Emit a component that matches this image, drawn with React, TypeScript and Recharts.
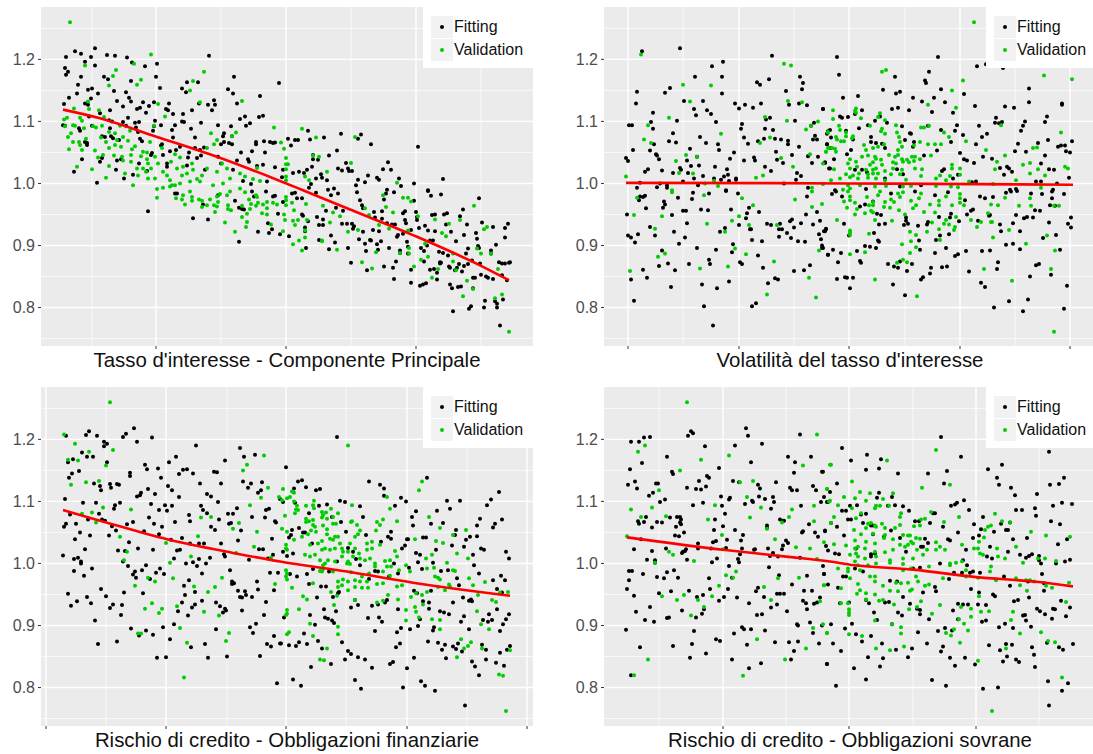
import React from "react";
import { ScatterChart, Scatter, XAxis, YAxis, CartesianGrid, Legend } from "recharts";

type P = [number, number];

const yMajor = [0.8, 0.9, 1.0, 1.1, 1.2];
const yMinor = [0.75, 0.85, 0.95, 1.05, 1.15, 1.25];

const titles = [
  "Tasso d'interesse - Componente Principale",
  "Volatilità del tasso d'interesse",
  "Rischio di credito - Obbligazioni finanziarie",
  "Rischio di credito - Obbligazioni sovrane",
];

const xMajor1 = [115, 245, 375];
const xMinor1 = [51, 180, 310, 440];
const xMajor2 = [24, 135, 245, 356, 466];
const xMinor2 = [79, 190, 301, 411];
const xMajor3 = [5, 125, 245, 366, 486];
const xMinor3 = [65, 186, 305, 426];
const xMajor4 = [119, 245, 372];
const xMinor4 = [55, 182, 309, 435];

const fit1Line: P[] = [[22,1.119],[59,1.105],[116,1.075],[176,1.043],[239,1.004],[262,.989],[306,.96],[376,.914],[439,.868],[468,.844]];
const fit2Line: P[] = [[22,1.001],[245,1.0],[469,.998]];
const fit3Line: P[] = [[22,1.086],[59,1.069],[126,1.039],[192,1.017],[239,1.003],[306,.987],[372,.969],[439,.954],[469,.948]];
const fit4Line: P[] = [[23,1.042],[119,1.022],[182,1.011],[226,1.003],[246,.998],[309,.99],[372,.978],[435,.97],[469,.963]];

const fitting1: P[] = [[54,1.218],[34,1.213],[40,1.209],[25,1.204],[50,1.204],[66,1.207],[74,1.206],[86,1.203],[91,1.195],[116,1.193],[104,1.189],[168,1.206],[44,1.196],[24,1.186],[27,1.18],[25,1.175],[54,1.19],[40,1.172],[63,1.172],[67,1.168],[115,1.172],[90,1.165],[37,1.159],[47,1.151],[51,1.153],[73,1.149],[119,1.154],[141,1.153],[146,1.163],[157,1.163],[36,1.145],[57,1.145],[85,1.147],[145,1.147],[193,1.172],[187,1.152],[192,1.145],[50,1.137],[28,1.138],[76,1.133],[88,1.138],[90,1.132],[173,1.134],[23,1.128],[44,1.129],[47,1.127],[82,1.124],[102,1.131],[113,1.131],[128,1.129],[108,1.125],[96,1.12],[99,1.122],[125,1.12],[127,1.118],[69,1.118],[105,1.114],[59,1.113],[132,1.112],[142,1.112],[151,1.118],[158,1.129],[167,1.127],[171,1.118],[174,1.127],[196,1.129],[219,1.141],[222,1.109],[218,1.107],[204,1.108],[199,1.104],[238,1.162],[48,1.108],[22,1.094],[24,1.093],[38,1.089],[39,1.085],[68,1.102],[71,1.1],[82,1.099],[85,1.093],[87,1.106],[94,1.098],[98,1.099],[114,1.101],[95,1.09],[97,1.083],[113,1.092],[120,1.094],[112,1.085],[141,1.1],[143,1.099],[131,1.086],[134,1.094],[150,1.088],[160,1.098],[177,1.094],[190,1.092],[205,1.093],[209,1.097],[69,1.089],[51,1.093],[61,1.076],[64,1.075],[70,1.076],[72,1.073],[78,1.07],[132,1.074],[154,1.074],[183,1.081],[182,1.076],[191,1.076],[99,1.072],[101,1.068],[46,1.065],[44,1.067],[46,1.062],[121,1.063],[120,1.061],[139,1.059],[154,1.057],[163,1.058],[159,1.054],[180,1.063],[183,1.067],[188,1.065],[191,1.063],[215,1.067],[215,1.063],[223,1.068],[229,1.067],[232,1.065],[234,1.066],[224,1.05],[211,1.052],[200,1.05],[129,1.052],[135,1.054],[111,1.049],[110,1.046],[122,1.046],[148,1.05],[147,1.042],[156,1.041],[160,1.045],[177,1.043],[41,1.039],[59,1.035],[61,1.041],[76,1.037],[80,1.039],[98,1.032],[126,1.032],[196,1.037],[207,1.039],[208,1.035],[216,1.028],[222,1.03],[234,1.026],[180,1.032],[75,1.022],[33,1.019],[92,1.014],[83,1.008],[56,1.001],[106,1.02],[126,1.027],[146,1.029],[164,1.022],[192,1.022],[202,1.004],[210,.999],[226,1.003],
[267,1.085],[300,1.08],[320,1.079],[317,1.072],[283,1.074],[269,1.071],[247,1.072],[254,1.07],[257,1.07],[250,1.061],[330,1.063],[377,1.059],[296,1.053],[288,1.045],[272,1.046],[272,1.039],[277,1.038],[305,1.033],[347,1.034],[271,1.027],[297,1.024],[301,1.021],[307,1.024],[308,1.02],[311,1.02],[342,1.023],[350,1.022],[252,1.017],[258,1.019],[263,1.017],[266,1.022],[242,1.022],[280,1.015],[281,1.009],[275,1.008],[286,1.005],[241,1.01],[317,1.006],[327,1.013],[336,1.009],[338,1.006],[358,1.008],[402,1.007],[324,1.002],[315,.997],[373,1.0],[360,.996],[270,.999],[268,.993],[287,.99],[293,.992],[346,.99],[387,.989],
[107,.955],[152,.944],[167,.942],[198,.906],[217,.922],[228,.92],[231,.926],[239,.918],[227,.936],[237,.951],[194,.972],[198,.961],[201,.959],[203,.958],[162,.966],[134,.984],[136,.984],[177,.981],[213,.979],[232,.979],[234,.98],[211,.987],[225,.987],
[438,.976],[400,.982],[390,.98],[387,.988],[373,.972],[353,.986],[345,.984],[343,.974],[316,.986],[319,.973],[321,.965],[322,.96],[297,.984],[290,.981],[275,.985],[254,.985],[251,.984],[261,.976],[256,.976],[242,.97],[261,.95],[262,.948],[267,.939],[276,.946],[278,.933],[282,.933],[282,.942],[285,.956],[295,.961],[302,.956],[301,.935],[306,.935],[311,.935],[313,.931],[312,.927],[264,.929],[264,.923],[248,.915],[290,.916],[278,.909],[294,.905],[318,.91],[288,.894],[265,.896],[307,.896],[310,.872],[326,.86],[343,.866],[352,.864],[355,.874],[353,.846],[370,.84],[370,.861],[379,.835],[382,.837],[385,.839],[325,.891],[324,.903],[329,.909],[330,.908],[337,.893],[336,.902],[340,.907],[348,.896],[359,.892],[359,.888],[366,.906],[367,.898],[367,.887],[380,.896],[383,.891],[383,.874],[386,.9],[389,.908],[394,.923],[392,.908],[387,.924],[384,.932],[378,.928],[376,.941],[364,.941],[365,.936],[356,.914],[357,.917],[362,.919],[370,.925],[351,.934],[354,.934],[346,.936],[338,.923],[332,.925],[322,.922],[333,.954],[334,.945],[341,.955],[341,.943],[362,.952],[364,.955],[375,.954],[376,.946],[391,.949],[394,.95],[403,.95],[406,.952],[405,.934],[410,.922],[419,.947],[422,.958],[426,.934],[423,.917],[415,.907],[402,.888],[398,.89],[407,.884],[425,.887],[427,.895],[399,.873],[399,.871],[389,.861],[393,.862],[396,.845],[396,.856],[400,.872],[408,.866],[409,.864],[414,.86],[416,.864],[421,.858],[418,.87],[423,.867],[427,.87],[431,.876],[439,.871],[440,.853],[432,.848],[434,.848],[432,.831],[409,.837],[411,.831],[417,.833],[420,.834],[412,.794],[428,.798],[430,.802],[443,.8],[444,.811],[454,.81],[456,.8],[456,.806],[462,.813],[445,.85],[447,.848],[452,.846],[461,.852],[466,.844],[458,.873],[461,.871],[464,.871],[468,.872],[469,.873],[455,.901],[450,.892],[450,.887],[464,.913],[464,.928],[467,.935],[452,.93],[441,.937],[435,.92],[436,.911],[437,.899],[438,.896],[459,.771]];

const validation1: P[] = [[29,1.26],[110,1.208],[93,1.193],[44,1.19],[163,1.18],[75,1.183],[72,1.173],[68,1.158],[100,1.167],[96,1.159],[152,1.165],[149,1.15],[47,1.132],[117,1.128],[159,1.131],[201,1.133],[33,1.121],[48,1.12],[58,1.118],[23,1.103],[26,1.106],[39,1.106],[41,1.101],[63,1.107],[124,1.108],[24,1.092],[32,1.094],[34,1.093],[43,1.089],[52,1.092],[55,1.09],[61,1.093],[68,1.083],[74,1.081],[79,1.093],[89,1.085],[113,1.093],[27,1.075],[30,1.081],[32,1.067],[38,1.067],[39,1.062],[45,1.072],[60,1.074],[65,1.067],[74,1.062],[76,1.07],[82,1.075],[87,1.069],[94,1.06],[109,1.067],[28,1.055],[41,1.054],[54,1.053],[68,1.057],[80,1.059],[91,1.055],[102,1.051],[106,1.05],[121,1.057],[57,1.042],[62,1.046],[73,1.045],[81,1.043],[82,1.037],[90,1.046],[100,1.044],[114,1.043],[139,1.042],[36,1.027],[51,1.023],[68,1.028],[90,1.035],[106,1.039],[107,1.032],[96,1.024],[102,1.024],[110,1.024],[117,1.032],[130,1.035],[134,1.047],[84,1.016],[97,1.013],[105,1.019],[122,1.019],[126,1.013],[114,1.008],[136,1.024],[142,1.027],[151,1.032],[166,1.057],[170,1.081],[173,1.063],[176,1.07],[181,1.032],[195,1.082],[191,1.076],[233,1.09],[65,1.009],[92,.997],[107,1.008],[129,1.005],[131,.997],[141,1.013],[146,1.016],[152,1.022],[161,1.013],[166,1.024],[176,1.019],[186,1.024],[199,1.016],[204,1.011],[216,1.025],[212,1.007],[219,1.004],[134,.997],[139,1.0],[149,1.003],[156,1.007],[159,1.003],[172,.997],[182,1.0],[189,1.008],[129,.995],[122,.993],[116,.991],[199,.992],
[116,.977],[135,.976],[141,.974],[144,.966],[142,.981],[149,.987],[151,.978],[151,.972],[158,.974],[161,.972],[161,.962],[166,.965],[169,.974],[173,.965],[176,.963],[177,.97],[174,.954],[176,.979],[179,.983],[186,.981],[189,.987],[187,.965],[190,.957],[187,.959],[184,.937],[194,.922],[201,.946],[206,.951],[206,.938],[205,.93],[201,.964],[209,.959],[208,.974],[210,.967],[215,.964],[217,.969],[216,.978],[215,.981],[204,.986],[221,.952],[222,.966],[226,.97],[226,.96],[226,.95],[230,.934],[232,.969],[236,.966],
[261,1.088],[275,1.074],[314,1.075],[240,1.066],[243,1.056],[245,1.041],[245,1.031],[247,1.031],[245,1.023],[245,1.011],[245,1.005],[272,1.045],[278,1.043],[310,1.033],[286,1.019],[264,1.011],[268,1.005],[356,1.001],
[245,.978],[245,.973],[245,.965],[251,.969],[265,.967],[253,.957],[243,.95],[252,.94],[257,.941],[266,.941],[244,.941],[254,.933],[242,.923],[264,.924],[264,.913],[258,.908],[252,.902],[261,.892],[282,.964],[292,.953],[299,.947],[289,.937],[307,.922],[281,.908],[281,.907],[296,.893],[317,.925],[324,.96],[328,.949],[338,.933],[348,.927],[342,.981],[345,.962],[352,.953],[362,.977],[367,.977],[370,.971],[377,.947],[367,.924],[368,.896],[359,.888],[368,.887],[335,.889],[321,.873],[331,.863],[384,.903],[387,.882],[380,.877],[373,.866],[397,.862],[391,.848],[394,.942],[408,.935],[401,.92],[405,.915],[412,.887],[412,.874],[415,.86],[419,.941],[433,.964],[443,.926],[446,.93],[440,.887],[436,.895],[450,.887],[457,.862],[426,.843],[432,.83],[422,.818],[454,.815],[461,.821],[468,.761]];

const fitting2: P[] = [[76,1.218],[38,1.213],[168,1.206],[119,1.196],[108,1.189],[91,1.172],[118,1.172],[165,1.168],[196,1.172],[153,1.163],[156,1.159],[199,1.162],[66,1.154],[198,1.152],[33,1.148],[61,1.146],[182,1.149],[118,1.145],[80,1.133],[99,1.133],[32,1.129],[131,1.129],[141,1.127],[157,1.129],[185,1.127],[195,1.129],[203,1.126],[90,1.12],[103,1.118],[135,1.121],[149,1.122],[219,1.12],[49,1.114],[92,1.11],[107,1.112],[25,1.094],[28,1.094],[47,1.099],[73,1.101],[112,1.099],[138,1.096],[162,1.103],[166,1.106],[191,1.101],[210,1.098],[207,1.093],[49,1.088],[137,1.088],[161,1.088],[169,1.086],[69,1.081],[224,1.083],[211,1.077],[96,1.075],[140,1.074],[223,1.08],[65,1.068],[72,1.066],[50,1.063],[102,1.065],[114,1.063],[144,1.064],[154,1.068],[160,1.072],[171,1.072],[177,1.071],[184,1.069],[184,1.063],[209,1.071],[213,1.071],[223,1.063],[86,1.056],[115,1.054],[46,1.053],[29,1.054],[172,1.051],[195,1.059],[130,1.05],[52,1.047],[53,1.045],[22,1.041],[24,1.036],[55,1.039],[83,1.037],[93,1.043],[126,1.04],[150,1.042],[151,1.037],[173,1.038],[179,1.033],[188,1.046],[204,1.044],[214,1.043],[221,1.034],[140,1.037],[58,1.021],[41,1.019],[44,1.023],[69,1.017],[76,1.025],[77,1.022],[84,1.017],[87,1.028],[95,1.029],[111,1.027],[123,1.023],[161,1.027],[167,1.02],[208,1.033],[193,1.017],[197,1.012],[225,1.024],[79,1.003],[90,1.008],[99,1.012],[110,1.008],[117,1.006],[120,1.011],[124,1.014],[125,1.004],[132,1.008],[132,1.006],[36,1.001],[56,1.0],[192,1.006],[180,1.0],[63,.997],[53,.994],[94,.997],[33,.993],[63,.993],[122,.989],[204,.993],
[35,.973],[36,.979],[39,.978],[41,.98],[42,.96],[23,.95],[60,.971],[61,.966],[59,.961],[74,.977],[68,.949],[79,.956],[82,.956],[88,.975],[89,.985],[105,.984],[104,.957],[97,.958],[122,.988],[134,.984],[127,.958],[145,.961],[143,.952],[142,.944],[155,.954],[135,.933],[146,.926],[147,.926],[163,.935],[167,.933],[176,.935],[175,.926],[178,.926],[186,.939],[188,.942],[197,.936],[202,.95],[213,.954],[203,.979],[209,.934],[190,.929],[183,.92],[187,.912],[175,.914],[194,.907],[201,.906],[215,.918],[216,.94],[220,.923],[222,.926],[217,.91],[218,.9],[218,.896],[224,.885],[83,.936],[46,.93],[34,.918],[24,.916],[27,.913],[51,.916],[31,.905],[70,.922],[81,.913],[75,.903],[93,.896],[121,.928],[116,.922],[129,.902],[128,.889],[112,.893],[148,.909],[158,.907],[154,.884],[58,.892],[105,.877],[106,.87],[85,.87],[136,.873],[138,.87],[159,.864],[55,.867],[64,.871],[71,.86],[39,.861],[43,.848],[27,.845],[30,.811],[67,.833],[98,.837],[113,.831],[125,.842],[164,.839],[171,.847],[174,.845],[190,.859],[200,.86],[206,.868],[100,.802],[109,.771],[148,.802],[152,.807],
[233,1.204],[334,1.204],[373,1.189],[382,1.192],[399,1.186],[235,1.175],[291,1.172],[325,1.18],[321,1.166],[322,1.162],[425,1.153],[279,1.151],[296,1.148],[292,1.145],[337,1.152],[239,1.138],[254,1.141],[309,1.138],[330,1.138],[360,1.144],[318,1.132],[341,1.131],[425,1.131],[458,1.129],[458,1.127],[371,1.125],[401,1.124],[410,1.122],[219,1.12],[258,1.118],[288,1.12],[294,1.122],[305,1.118],[328,1.115],[349,1.114],[251,1.112],[236,1.108],[238,1.106],[244,1.107],[276,1.108],[271,1.101],[283,1.098],[392,1.106],[391,1.098],[395,1.097],[398,1.099],[443,1.108],[441,1.099],[421,1.1],[419,1.093],[417,1.085],[264,1.094],[255,1.089],[298,1.092],[324,1.093],[337,1.086],[351,1.085],[353,1.094],[375,1.093],[383,1.08],[378,1.075],[359,1.078],[226,1.086],[224,1.084],[227,1.074],[242,1.085],[249,1.071],[267,1.075],[306,1.081],[307,1.08],[301,1.07],[444,1.07],[468,1.068],[414,1.064],[434,1.065],[347,1.067],[223,1.063],[267,1.067],[272,1.065],[278,1.064],[310,1.067],[372,1.063],[454,1.059],[461,1.061],[457,1.061],[226,1.057],[247,1.054],[281,1.057],[309,1.059],[333,1.053],[411,1.052],[422,1.051],[462,1.052],[466,1.05],[356,1.049],[441,1.045],[243,1.047],[320,1.045],[379,1.043],[388,1.04],[230,1.039],[360,1.039],[363,1.037],[370,1.033],[437,1.032],[221,1.033],[396,1.025],[403,1.027],[405,1.024],[408,1.019],[445,1.023],[450,1.022],[400,1.014],[465,1.009],[226,1.024],[251,1.022],[258,1.022],[263,1.018],[293,1.023],[299,1.015],[340,1.023],[338,1.02],[354,1.014],[349,1.008],[432,1.003],[437,1.003],[453,1.0],[281,1.008],[317,.997],[368,1.002],[372,1.003],[231,.989],[262,.991],[296,.995],[406,.99],[412,.991],[449,.99],
[228,.983],[232,.987],[287,.984],[269,.971],[261,.966],[256,.963],[238,.979],[311,.987],[331,.981],[344,.986],[361,.973],[376,.979],[381,.976],[389,.978],[402,.985],[407,.987],[413,.988],[427,.984],[438,.983],[448,.987],[448,.976],[460,.983],[446,.965],[451,.964],[273,.951],[277,.949],[302,.945],[302,.94],[275,.934],[281,.935],[300,.933],[304,.935],[314,.932],[323,.934],[324,.938],[335,.946],[346,.945],[347,.951],[355,.939],[363,.95],[367,.956],[369,.958],[374,.94],[385,.948],[386,.949],[396,.934],[397,.923],[409,.936],[412,.949],[416,.923],[420,.944],[423,.946],[429,.945],[431,.957],[436,.956],[445,.937],[240,.935],[221,.923],[222,.927],[245,.916],[270,.92],[452,.917],[464,.935],[467,.929],[467,.945],[439,.912],[336,.916],[345,.918],[332,.909],[315,.908],[274,.908],[275,.906],[261,.899],[266,.898],[272,.896],[342,.896],[316,.893],[219,.896],[229,.893],[224,.885],[237,.888],[253,.891],[331,.888],[351,.883],[354,.886],[362,.891],[378,.891],[386,.892],[402,.901],[409,.903],[416,.894],[456,.893],[256,.875],[257,.872],[234,.873],[284,.87],[290,.866],[294,.864],[296,.874],[308,.87],[327,.864],[338,.865],[343,.866],[394,.873],[393,.862],[432,.868],[435,.87],[303,.859],[326,.855],[365,.858],[447,.853],[233,.846],[241,.849],[243,.848],[249,.848],[319,.849],[317,.845],[246,.831],[289,.837],[377,.84],[381,.833],[426,.85],[463,.835],[301,.82],[390,.8],[405,.81],[424,.813],[419,.794],[460,.798]];

const validation2: P[] = [[37,1.208],[180,1.193],[187,1.19],[79,1.159],[107,1.158],[86,1.132],[184,1.133],[198,1.131],[65,1.106],[161,1.107],[183,1.101],[214,1.1],[44,1.094],[207,1.093],[202,1.087],[224,1.083],[117,1.08],[40,1.071],[166,1.074],[47,1.065],[156,1.065],[222,1.051],[224,1.057],[82,1.046],[93,1.043],[206,1.047],[177,1.041],[72,1.036],[219,1.032],[189,1.027],[89,1.016],[75,1.017],[159,1.013],[152,1.009],[22,1.011],[110,1.004],[101,1.0],[114,.996],[208,.993],[68,.989],
[33,.977],[100,.981],[68,.986],[138,.976],[149,.965],[191,.974],[208,.987],[208,.962],[218,.967],[30,.949],[58,.947],[135,.947],[103,.935],[128,.94],[145,.933],[173,.933],[51,.927],[121,.922],[215,.892],[131,.895],[61,.887],[54,.882],[142,.886],[170,.874],[124,.866],[96,.863],[26,.859],[205,.848],[163,.821],[212,.816],
[370,1.26],[440,1.174],[468,1.168],[359,1.166],[278,1.18],[282,1.183],[348,1.15],[324,1.127],[352,1.122],[229,1.118],[252,1.121],[251,1.117],[252,1.114],[276,1.113],[229,1.104],[257,1.105],[274,1.107],[281,1.102],[235,1.093],[292,1.094],[266,1.093],[317,1.09],[320,1.09],[325,1.093],[236,1.086],[278,1.088],[277,1.084],[281,1.08],[293,1.082],[340,1.082],[397,1.094],[457,1.082],[242,1.082],[224,1.082],[232,1.075],[233,1.071],[242,1.076],[249,1.076],[248,1.073],[237,1.068],[240,1.068],[296,1.067],[295,1.075],[345,1.075],[316,1.067],[362,1.068],[260,1.062],[274,1.059],[280,1.063],[310,1.061],[324,1.063],[331,1.063],[337,1.063],[228,1.057],[231,1.056],[225,1.057],[222,1.051],[232,1.051],[262,1.054],[269,1.057],[294,1.054],[298,1.059],[382,1.054],[429,1.057],[433,1.058],[246,1.039],[258,1.043],[264,1.045],[271,1.043],[272,1.04],[277,1.038],[285,1.046],[291,1.043],[294,1.046],[298,1.039],[303,1.038],[308,1.043],[311,1.043],[316,1.039],[327,1.045],[401,1.045],[393,1.035],[252,1.035],[244,1.032],[266,1.03],[269,1.034],[278,1.03],[289,1.034],[292,1.032],[299,1.035],[305,1.034],[310,1.036],[419,1.03],[426,1.033],[461,1.027],[464,1.024],[230,1.023],[253,1.027],[246,1.024],[262,1.022],[269,1.022],[272,1.024],[281,1.02],[289,1.024],[298,1.022],[311,1.024],[318,1.023],[348,1.03],[348,1.024],[356,1.024],[391,1.023],[434,1.023],[426,1.016],[441,1.013],[242,1.015],[249,1.013],[255,1.016],[264,1.015],[269,1.016],[274,1.016],[287,1.015],[296,1.015],[317,1.012],[336,1.013],[346,1.012],[356,1.014],[227,1.005],[236,1.008],[246,1.01],[254,1.008],[264,1.009],[272,1.008],[281,1.005],[302,1.006],[332,1.008],[342,1.005],[365,1.003],[412,1.005],[244,.997],[256,.997],[271,.995],[282,.996],[299,.995],[307,.996],[332,.996],[347,.995],[354,.994],[389,.999],[437,.993],[219,.999],[239,.99],[246,.992],
[244,.987],[246,.979],[246,.973],[243,.961],[240,.971],[251,.969],[251,.95],[253,.959],[261,.952],[263,.978],[265,.965],[269,.965],[274,.981],[276,.987],[281,.97],[280,.962],[269,.97],[267,.956],[269,.953],[287,.974],[290,.97],[286,.961],[294,.984],[296,.978],[299,.986],[307,.972],[312,.965],[309,.96],[295,.957],[301,.95],[315,.976],[317,.984],[320,.954],[326,.966],[331,.953],[335,.972],[335,.965],[342,.979],[348,.965],[356,.983],[356,.969],[356,.976],[360,.965],[352,.946],[387,.966],[394,.965],[401,.977],[415,.964],[426,.976],[427,.964],[450,.964],[455,.964],[233,.941],[271,.941],[288,.94],[328,.937],[342,.941],[351,.93],[345,.934],[335,.926],[350,.925],[340,.935],[367,.941],[377,.938],[373,.93],[384,.952],[387,.938],[388,.938],[405,.925],[246,.924],[246,.921],[246,.917],[265,.919],[323,.922],[306,.922],[312,.917],[307,.907],[336,.909],[389,.913],[443,.916],[298,.902],[422,.903],[312,.897],[306,.888],[261,.889],[246,.886],[451,.892],[299,.877],[303,.873],[293,.872],[380,.862],[447,.862],[271,.845],[408,.843],[313,.818],[450,.761]];

const fitting3: P[] = [[93,1.218],[48,1.213],[45,1.207],[85,1.209],[56,1.206],[25,1.206],[82,1.204],[111,1.203],[96,1.196],[63,1.196],[66,1.193],[63,1.189],[155,1.19],[199,1.186],[41,1.179],[203,1.172],[214,1.175],[46,1.172],[52,1.172],[32,1.168],[135,1.172],[27,1.163],[66,1.163],[128,1.163],[184,1.166],[104,1.159],[106,1.152],[117,1.153],[142,1.151],[146,1.152],[38,1.149],[31,1.145],[138,1.144],[152,1.145],[89,1.146],[173,1.148],[176,1.147],[89,1.141],[28,1.138],[120,1.138],[159,1.129],[180,1.129],[202,1.132],[221,1.131],[210,1.129],[53,1.129],[59,1.125],[69,1.128],[76,1.128],[78,1.127],[70,1.122],[60,1.118],[107,1.12],[127,1.125],[131,1.118],[207,1.122],[220,1.118],[217,1.114],[100,1.114],[99,1.11],[96,1.108],[114,1.112],[166,1.112],[170,1.108],[138,1.107],[24,1.104],[42,1.098],[55,1.098],[79,1.098],[74,1.094],[73,1.088],[110,1.096],[124,1.094],[131,1.093],[177,1.099],[160,1.093],[126,1.085],[118,1.086],[58,1.08],[29,1.079],[166,1.081],[162,1.086],[187,1.08],[192,1.08],[196,1.089],[225,1.086],[228,1.088],[148,1.078],[108,1.074],[224,1.074],[211,1.075],[61,1.071],[64,1.069],[47,1.071],[92,1.067],[149,1.068],[134,1.067],[178,1.071],[25,1.064],[35,1.064],[113,1.064],[23,1.059],[86,1.063],[71,1.06],[121,1.059],[188,1.064],[190,1.065],[234,1.068],[235,1.066],[170,1.059],[174,1.054],[75,1.053],[103,1.052],[200,1.053],[39,1.05],[49,1.045],[68,1.045],[118,1.047],[141,1.041],[34,1.039],[231,1.04],[130,1.038],[88,1.034],[149,1.032],[158,1.032],[163,1.032],[197,1.037],[180,1.032],[44,1.023],[97,1.024],[112,1.022],[77,1.021],[84,1.02],[136,1.021],[139,1.022],[218,1.023],[222,1.023],[232,1.014],[183,1.015],[184,1.011],[22,1.013],[158,1.007],[169,1.009],[133,1.008],[208,1.006],[227,1.008],[33,1.007],[37,1.009],[82,1.003],[145,1.0],[152,1.002],[156,.996],[165,1.0],[40,1.003],[40,1.0],[87,.996],[105,.997],[51,.992],[119,.992],[101,.989],[189,.989],[33,.988],[94,.987],[92,.982],[123,.983],[115,.985],[161,.984],[229,.985],[237,.985],[43,.98],[95,.977],[109,.975],[148,.973],[216,.971],[191,.971],[193,.968],[143,.964],[191,.967],[60,.959],[233,.957],[217,.958],[154,.954],[197,.956],[204,.955],[199,.946],[201,.945],[205,.949],[211,.946],[144,.949],[102,.952],[83,.953],[27,.951],[65,.947],[46,.946],[161,.94],[225,.938],[175,.937],[141,.937],[154,.934],[36,.939],[50,.936],[72,.934],[81,.933],[30,.932],[179,.931],[151,.929],[69,.928],[184,.927],[137,.923],[185,.924],[201,.924],[182,.921],[147,.916],[223,.917],[80,.917],[54,.908],[133,.902],[215,.903],[122,.897],[209,.897],[90,.895],[175,.894],[105,.892],[212,.888],[112,.885],[233,.883],[98,.884],[129,.878],[76,.874],[57,.87],[226,.87],[239,.871],[164,.87],[230,.866],[150,.865],[219,.851],[125,.849],[186,.85],[116,.848],[167,.848],[236,.807],
[296,1.204],[245,1.155],[386,1.138],[328,1.132],[261,1.134],[257,1.132],[339,1.127],[343,1.121],[253,1.121],[265,1.123],[275,1.118],[279,1.12],[239,1.104],[343,1.109],[458,1.115],[450,1.103],[360,1.106],[365,1.1],[406,1.101],[419,1.101],[299,1.101],[304,1.099],[242,1.099],[254,1.098],[446,1.094],[354,1.093],[319,1.092],[278,1.093],[286,1.095],[409,1.088],[396,1.085],[375,1.084],[268,1.081],[371,1.075],[439,1.072],[461,1.071],[322,1.075],[291,1.075],[300,1.067],[390,1.064],[402,1.065],[454,1.064],[436,1.061],[372,1.061],[452,1.058],[415,1.054],[251,1.054],[258,1.057],[262,1.05],[264,1.05],[305,1.051],[350,1.051],[414,1.046],[382,1.042],[385,1.042],[325,1.046],[347,1.043],[350,1.04],[250,1.046],[248,1.042],[429,1.043],[436,1.044],[425,1.038],[366,1.039],[367,1.039],[411,1.029],[423,1.027],[395,1.022],[440,1.024],[443,1.022],[465,1.019],[364,1.029],[361,1.024],[307,1.025],[340,1.035],[271,1.032],[242,1.019],[252,1.016],[312,1.019],[375,1.017],[379,1.014],[468,1.008],[432,1.014],[296,1.003],[315,1.007],[319,.997],[392,1.001],[377,1.002],[357,.984],[353,1.0],[433,.997],[246,1.012],[368,.993],[381,.991],[400,.988],[407,.989],[438,.984],[272,.991],[288,.987],[249,.983],[256,.979],[266,.983],[460,.98],[464,.973],[452,.973],[416,.976],[334,.988],[337,.987],[348,.979],[328,.975],[418,.965],[268,.967],[280,.963],[285,.963],[456,.959],[461,.953],[390,.956],[373,.956],[376,.952],[298,.954],[297,.952],[292,.946],[276,.945],[422,.945],[428,.94],[430,.942],[431,.939],[382,.939],[388,.937],[412,.937],[314,.941],[317,.933],[310,.929],[346,.941],[344,.937],[331,.932],[337,.934],[456,.926],[468,.918],[465,.91],[462,.902],[448,.918],[451,.909],[447,.906],[442,.909],[295,.923],[283,.926],[357,.926],[388,.927],[399,.923],[403,.921],[408,.918],[269,.917],[284,.913],[287,.911],[291,.908],[293,.904],[274,.901],[327,.912],[338,.913],[341,.906],[243,.913],[423,.915],[420,.906],[379,.91],[377,.899],[393,.897],[392,.892],[369,.894],[360,.896],[356,.889],[334,.891],[428,.894],[459,.891],[263,.887],[277,.875],[301,.873],[240,.871],[248,.868],[255,.867],[258,.873],[266,.87],[281,.863],[355,.865],[359,.871],[387,.874],[397,.872],[404,.869],[401,.861],[412,.866],[415,.862],[421,.858],[417,.871],[441,.869],[445,.861],[405,.847],[307,.859],[310,.854],[317,.849],[324,.845],[304,.845],[373,.848],[431,.842],[434,.834],[445,.845],[455,.84],[463,.835],[469,.867],[466,.861],[459,.856],[352,.841],[349,.838],[290,.838],[270,.833],[331,.832],[366,.831],[438,.82],[252,.813],[260,.803],[314,.812],[320,.798],[362,.8],[380,.81],[384,.803],[394,.795],[424,.771]];

const validation3: P[] = [[69,1.26],[23,1.208],[34,1.193],[72,1.183],[48,1.18],[223,1.174],[27,1.167],[37,1.166],[65,1.158],[206,1.159],[202,1.15],[58,1.133],[45,1.131],[30,1.127],[227,1.122],[220,1.106],[238,1.107],[209,1.094],[62,1.09],[90,1.087],[51,1.082],[41,1.08],[55,1.066],[160,1.074],[170,1.075],[198,1.065],[192,1.056],[216,1.051],[157,1.044],[79,1.043],[125,1.033],[213,1.027],[195,1.017],[86,1.019],[150,1.011],[230,1.009],[83,1.005],[129,1.001],[181,.977],[132,.976],[107,.977],[114,.971],[94,.964],[234,.967],[153,.963],[174,.962],[167,.954],[111,.936],[136,.931],[104,.927],[121,.927],[118,.92],[163,.922],[178,.916],[139,.896],[97,.887],[100,.887],[188,.888],[185,.875],[146,.872],[143,.816],
[307,1.19],[381,1.132],[378,1.118],[242,1.12],[251,1.116],[253,1.114],[246,1.105],[249,1.107],[346,1.107],[241,1.102],[253,1.1],[273,1.101],[311,1.094],[256,1.093],[265,1.093],[272,1.094],[255,1.087],[273,1.089],[290,1.088],[349,1.088],[257,1.086],[244,1.077],[254,1.081],[268,1.068],[281,1.083],[282,1.078],[285,1.082],[297,1.081],[272,1.07],[281,1.074],[286,1.072],[265,1.072],[388,1.075],[356,1.068],[342,1.071],[339,1.062],[336,1.067],[311,1.068],[265,1.067],[292,1.075],[241,1.056],[246,1.051],[272,1.062],[274,1.059],[282,1.061],[292,1.064],[295,1.064],[316,1.062],[310,1.067],[335,1.053],[399,1.057],[425,1.054],[270,1.053],[275,1.051],[286,1.055],[286,1.047],[261,1.043],[267,1.047],[294,1.043],[297,1.043],[319,1.053],[317,1.047],[314,1.043],[412,1.046],[395,1.036],[374,1.039],[402,1.033],[245,1.03],[253,1.038],[269,1.03],[277,1.032],[281,1.036],[289,1.04],[292,1.038],[299,1.032],[309,1.032],[326,1.032],[331,1.035],[339,1.03],[245,1.024],[246,1.022],[264,1.014],[269,1.011],[274,1.014],[281,1.022],[284,1.024],[289,1.022],[294,1.024],[301,1.024],[302,1.019],[307,1.019],[314,1.024],[318,1.016],[326,1.022],[331,1.024],[354,1.02],[391,1.014],[385,1.008],[416,1.016],[427,1.008],[279,1.005],[287,1.005],[294,1.003],[301,1.011],[307,1.003],[312,1.011],[319,1.008],[324,1.005],[329,1.008],[334,1.0],[344,1.004],[349,1.005],[356,1.011],[282,.997],[284,1.0],[306,1.0],[309,.999],[334,.995],[346,.995],[350,.995],[365,.997],[386,.992],[393,.993],[406,1.001],[245,.989],[246,.984],[245,.979],[246,.974],[281,.987],[282,.991],[279,.988],[292,.987],[302,.974],[310,.986],[321,.979],[328,.984],[342,.987],[349,.98],[358,.989],[369,.987],[412,.989],[414,.988],[397,.977],[399,.974],[394,.979],[428,.976],[444,.97],[272,.968],[251,.961],[297,.971],[301,.965],[307,.971],[314,.973],[319,.971],[326,.971],[342,.968],[336,.967],[356,.963],[361,.965],[297,.962],[307,.957],[314,.962],[321,.961],[327,.961],[408,.966],[397,.962],[386,.954],[404,.957],[409,.963],[432,.965],[437,.949],[459,.953],[467,.954],[290,.954],[262,.947],[266,.942],[296,.948],[347,.949],[370,.946],[375,.952],[381,.949],[357,.942],[342,.94],[336,.937],[314,.941],[293,.933],[382,.934],[451,.941],[455,.938],[246,.925],[246,.919],[258,.926],[245,.917],[374,.93],[365,.925],[375,.922],[436,.923],[269,.903],[378,.913],[391,.91],[399,.909],[365,.908],[440,.902],[297,.898],[448,.894],[399,.894],[297,.886],[248,.889],[246,.886],[272,.883],[420,.878],[430,.873],[427,.867],[423,.863],[286,.863],[441,.863],[416,.849],[279,.845],[283,.844],[458,.821],[462,.819],[465,.762],[469,.86]];

const fitting4: P[] = [[142,1.218],[87,1.213],[89,1.21],[84,1.206],[144,1.206],[196,1.208],[46,1.204],[40,1.203],[27,1.196],[35,1.196],[158,1.193],[101,1.189],[131,1.19],[63,1.172],[207,1.172],[184,1.172],[38,1.162],[147,1.163],[191,1.163],[115,1.154],[26,1.152],[68,1.148],[69,1.144],[190,1.146],[218,1.148],[103,1.141],[105,1.138],[31,1.132],[95,1.133],[129,1.133],[135,1.131],[172,1.131],[24,1.127],[52,1.129],[54,1.129],[154,1.127],[156,1.121],[102,1.124],[186,1.122],[209,1.125],[188,1.118],[193,1.118],[212,1.118],[33,1.121],[83,1.122],[92,1.12],[97,1.119],[49,1.114],[45,1.109],[61,1.103],[56,1.099],[155,1.108],[169,1.107],[117,1.108],[126,1.106],[125,1.103],[141,1.096],[148,1.101],[149,1.099],[161,1.104],[170,1.099],[217,1.099],[223,1.099],[89,1.094],[99,1.098],[118,1.093],[197,1.093],[167,1.088],[121,1.08],[42,1.075],[66,1.074],[73,1.075],[76,1.075],[77,1.071],[176,1.071],[180,1.069],[111,1.071],[53,1.067],[34,1.068],[40,1.067],[58,1.066],[76,1.066],[35,1.064],[77,1.063],[205,1.063],[48,1.058],[72,1.059],[119,1.06],[163,1.061],[163,1.057],[179,1.069],[110,1.054],[221,1.053],[131,1.054],[211,1.05],[80,1.05],[198,1.05],[199,1.052],[71,1.045],[75,1.044],[139,1.046],[214,1.043],[182,1.037],[37,1.039],[123,1.038],[94,1.032],[109,1.034],[112,1.036],[137,1.037],[184,1.033],[179,1.029],[30,1.023],[48,1.02],[62,1.024],[78,1.017],[81,1.02],[82,1.023],[79,1.019],[94,1.024],[122,1.025],[107,1.024],[138,1.024],[150,1.022],[151,1.023],[164,1.024],[178,1.023],[224,1.021],[196,1.009],[169,1.017],[136,1.015],[166,1.012],[113,1.008],[83,1.006],[43,1.006],[51,1.005],[108,1.002],[134,1.007],[135,1.002],[174,1.011],[51,1.001],[125,.996],[219,.996],[165,.994],[28,.988],[70,.989],[63,.986],[39,.983],[220,.983],[53,.978],[74,.977],[128,.977],[105,.976],[203,.98],[175,.981],[60,.976],[25,.988],[25,.973],[224,.966],[188,.966],[173,.951],[180,.951],[176,.951],[85,.956],[106,.959],[124,.959],[154,.961],[152,.955],[23,.959],[30,.948],[67,.955],[55,.952],[99,.949],[93,.946],[120,.946],[133,.945],[160,.946],[200,.956],[208,.956],[216,.945],[199,.94],[202,.936],[210,.935],[213,.937],[115,.94],[145,.936],[173,.934],[183,.923],[203,.926],[167,.929],[46,.93],[78,.924],[100,.926],[98,.919],[32,.922],[153,.917],[158,.918],[65,.913],[63,.912],[92,.913],[41,.909],[50,.906],[22,.893],[90,.891],[193,.902],[194,.9],[206,.905],[218,.9],[138,.897],[147,.894],[140,.894],[161,.892],[209,.888],[112,.878],[116,.875],[130,.887],[88,.87],[69,.867],[36,.865],[143,.869],[171,.873],[185,.873],[194,.874],[215,.871],[190,.859],[102,.855],[86,.848],[128,.845],[187,.845],[157,.839],[223,.838],[145,.831],[27,.82],
[337,1.204],[238,1.186],[445,1.18],[263,1.175],[357,1.172],[277,1.168],[247,1.166],[398,1.159],[262,1.151],[275,1.153],[384,1.152],[343,1.149],[294,1.145],[324,1.145],[219,1.148],[393,1.138],[460,1.138],[233,1.129],[340,1.129],[395,1.127],[446,1.127],[455,1.128],[407,1.122],[226,1.115],[275,1.114],[433,1.112],[273,1.106],[288,1.107],[411,1.11],[220,1.107],[224,1.099],[360,1.102],[353,1.098],[351,1.095],[347,1.093],[458,1.098],[468,1.096],[449,1.093],[253,1.094],[284,1.093],[291,1.094],[299,1.092],[246,1.093],[238,1.085],[242,1.085],[305,1.085],[412,1.086],[418,1.086],[431,1.089],[365,1.086],[329,1.081],[331,1.081],[262,1.08],[257,1.079],[432,1.077],[244,1.071],[247,1.071],[379,1.075],[370,1.063],[311,1.068],[315,1.068],[326,1.065],[397,1.064],[406,1.066],[447,1.068],[456,1.063],[259,1.065],[227,1.065],[233,1.059],[339,1.059],[267,1.061],[269,1.061],[287,1.053],[377,1.055],[402,1.054],[404,1.054],[390,1.051],[221,1.052],[409,1.039],[423,1.041],[240,1.045],[269,1.047],[280,1.043],[296,1.041],[321,1.04],[324,1.033],[344,1.039],[346,1.037],[354,1.05],[369,1.041],[375,1.045],[463,1.039],[454,1.031],[386,1.027],[317,1.027],[319,1.027],[222,1.028],[302,1.019],[362,1.022],[404,1.019],[416,1.014],[428,1.015],[425,1.012],[422,1.009],[435,1.012],[231,1.016],[235,1.015],[252,1.024],[267,1.015],[271,1.016],[267,1.011],[383,1.011],[388,1.008],[435,1.005],[437,1.0],[466,1.006],[461,1.003],[452,1.0],[359,1.005],[363,.997],[336,1.0],[251,.992],[259,.987],[309,.992],[316,.993],[220,.983],[239,.979],[242,.979],[350,.985],[358,.985],[366,.985],[369,.987],[376,.985],[400,.979],[438,.983],[345,.975],[286,.972],[293,.971],[406,.964],[424,.971],[440,.968],[234,.961],[319,.953],[331,.962],[332,.955],[367,.959],[375,.953],[440,.956],[299,.946],[389,.95],[391,.947],[425,.945],[414,.941],[410,.939],[457,.94],[262,.941],[245,.937],[236,.936],[265,.936],[281,.937],[285,.938],[306,.935],[354,.935],[359,.934],[364,.934],[374,.934],[382,.933],[466,.929],[449,.927],[451,.926],[433,.927],[436,.923],[313,.927],[316,.925],[270,.921],[294,.921],[298,.916],[316,.918],[325,.91],[441,.918],[462,.915],[349,.924],[419,.916],[421,.917],[422,.908],[448,.911],[382,.908],[378,.906],[354,.91],[273,.909],[248,.903],[227,.902],[241,.895],[288,.902],[427,.898],[395,.897],[401,.903],[409,.896],[334,.891],[341,.896],[348,.892],[314,.889],[252,.886],[267,.883],[258,.874],[229,.871],[278,.871],[323,.871],[237,.859],[292,.861],[308,.863],[337,.858],[339,.866],[385,.868],[396,.86],[402,.87],[408,.869],[428,.865],[443,.872],[455,.865],[459,.861],[469,.87],[264,.849],[279,.847],[304,.849],[346,.848],[361,.848],[403,.85],[430,.853],[412,.845],[415,.841],[399,.842],[223,.838],[351,.835],[371,.837],[276,.834],[250,.831],[431,.833],[262,.813],[328,.812],[444,.81],[464,.807],[232,.803],[342,.803],[379,.798],[394,.8],[458,.795],[445,.771]];

const validation4: P[] = [[83,1.26],[213,1.208],[41,1.19],[34,1.18],[125,1.174],[97,1.167],[199,1.158],[226,1.159],[76,1.15],[136,1.131],[149,1.133],[223,1.12],[55,1.118],[143,1.107],[225,1.1],[111,1.094],[210,1.093],[27,1.087],[48,1.09],[157,1.09],[188,1.087],[62,1.076],[37,1.075],[146,1.074],[185,1.075],[104,1.071],[178,1.066],[210,1.068],[163,1.056],[118,1.046],[23,1.044],[220,1.034],[171,1.039],[192,1.026],[206,1.024],[65,1.019],[69,1.014],[119,1.023],[90,1.004],[213,1.007],[51,1.001],[132,.987],[122,.981],[129,.977],[174,.976],[195,.977],[115,.964],[220,.965],[160,.962],[58,.947],[73,.941],[80,.949],[94,.941],[108,.947],[167,.941],[216,.939],[100,.93],[87,.916],[209,.896],[223,.888],[153,.878],[202,.863],[181,.845],[44,.845],[139,.819],[30,.82],
[332,1.183],[283,1.166],[227,1.159],[248,1.132],[318,1.122],[346,1.127],[223,1.12],[256,1.115],[266,1.113],[289,1.113],[240,1.107],[251,1.105],[262,1.101],[279,1.104],[226,1.101],[234,1.094],[285,1.093],[276,1.093],[271,1.089],[272,1.093],[248,1.089],[257,1.081],[297,1.081],[327,1.083],[355,1.075],[391,1.08],[398,1.068],[406,1.066],[252,1.073],[230,1.075],[296,1.075],[317,1.071],[321,1.072],[340,1.067],[264,1.064],[267,1.065],[271,1.061],[278,1.064],[296,1.062],[310,1.06],[316,1.061],[384,1.059],[387,1.061],[227,1.065],[250,1.054],[262,1.057],[272,1.059],[281,1.057],[291,1.057],[381,1.054],[427,1.051],[442,1.045],[466,1.043],[257,1.047],[269,1.048],[281,1.046],[299,1.046],[304,1.045],[306,1.045],[312,1.041],[316,1.04],[380,1.042],[251,1.037],[262,1.035],[271,1.032],[280,1.041],[289,1.039],[296,1.03],[307,1.035],[309,1.032],[332,1.034],[358,1.03],[375,1.035],[412,1.027],[230,1.031],[242,1.029],[251,1.024],[254,1.027],[261,1.024],[271,1.019],[281,1.018],[289,1.022],[301,1.027],[304,1.03],[313,1.022],[323,1.022],[336,1.027],[341,1.022],[370,1.024],[374,1.024],[393,1.024],[246,1.014],[252,1.016],[254,1.011],[261,1.008],[272,1.011],[286,1.005],[299,1.008],[309,1.008],[319,1.014],[332,1.022],[376,1.016],[379,1.014],[394,1.011],[401,1.008],[419,1.001],[434,1.008],[441,1.008],[452,1.004],[234,.992],[244,.992],[251,1.003],[254,.997],[264,.997],[272,1.0],[286,1.001],[299,.999],[307,.992],[325,.995],[346,1.0],[352,1.001],[358,1.003],[346,.997],[362,.989],[387,.995],[386,.987],[244,.987],[246,.976],[256,.989],[266,.979],[271,.979],[271,.971],[299,.989],[312,.979],[314,.971],[339,.976],[362,.979],[374,.977],[392,.973],[412,.976],[416,.965],[422,.973],[426,.973],[430,.971],[442,.964],[448,.961],[465,.969],[220,.965],[237,.96],[254,.967],[279,.964],[286,.956],[292,.969],[297,.968],[304,.969],[308,.958],[321,.964],[325,.966],[294,.955],[306,.956],[256,.957],[253,.951],[262,.952],[271,.95],[375,.947],[423,.956],[462,.938],[237,.936],[244,.936],[262,.942],[275,.94],[279,.941],[290,.934],[317,.939],[336,.933],[245,.926],[245,.921],[245,.917],[305,.926],[313,.93],[328,.919],[357,.93],[367,.927],[377,.922],[385,.923],[409,.922],[367,.914],[355,.91],[271,.908],[288,.902],[297,.897],[407,.909],[360,.903],[350,.894],[364,.892],[223,.888],[245,.886],[297,.887],[258,.883],[342,.888],[347,.884],[416,.887],[437,.889],[444,.875],[451,.873],[356,.872],[300,.866],[272,.863],[286,.86],[402,.863],[374,.843],[458,.816],[388,.762],[219,.902]];

const toRows = (pts: P[]) => pts.map(([x, y]) => ({ x, y }));
const FONT = "'Liberation Sans', Arial, sans-serif";

const Dot = (props: any) => <circle cx={props.cx} cy={props.cy} r={2} fill={props.fill} />;
const NoDot = () => <g />;

const LegendBox = ({ payload }: any) => (
  <div style={{ background: "#fff", boxSizing: "border-box", width: "100%", height: "100%", padding: "8px 0 0 8px", fontFamily: FONT, fontSize: 16, color: "#111" }}>
    {(payload || []).filter((e: any) => e.type !== "none" && e.value !== "Fit").map((e: any) => (
      <div key={e.value} style={{ display: "flex", alignItems: "center", height: 23, whiteSpace: "nowrap" }}>
        <div style={{ width: 22, height: 22, background: "#F2F2F2", display: "flex", alignItems: "center", justifyContent: "center" }}>
          <svg width={6} height={6}><circle cx={3} cy={3} r={2} fill={e.color} /></svg>
        </div>
        <span style={{ marginLeft: 1 }}>{e.value}</span>
      </div>
    ))}
  </div>
);

function Panel({ left, top, title, fit, val, line, xMajor, xMinor }: any) {
  return (
    <div style={{ position: "absolute", left, top }}>
      <ScatterChart width={533} height={374} margin={{ top: 7, right: 0, left: 0, bottom: 0 }}>
        <CartesianGrid fill="#EBEBEB" stroke="#FFFFFF" strokeWidth={0.7} horizontalValues={yMinor} verticalValues={xMinor} />
        <CartesianGrid fill="none" stroke="#FFFFFF" strokeWidth={1.4} horizontalValues={yMajor} verticalValues={xMajor} />
        <XAxis
          type="number"
          dataKey="x"
          domain={[0, 492]}
          ticks={xMajor}
          interval={0}
          height={28}
          axisLine={false}
          tickSize={3}
          tickLine={{ stroke: "#333333" }}
          tickFormatter={() => ""}
          label={{ value: title, position: "insideBottom", offset: 7, fontSize: 20.4, fontFamily: FONT, fill: "#111" }}
        />
        <YAxis
          type="number"
          dataKey="y"
          domain={[0.738, 1.2844]}
          ticks={yMajor}
          interval={0}
          width={41}
          axisLine={false}
          tickSize={3}
          tickMargin={3}
          tickLine={{ stroke: "#333333" }}
          tick={{ fontSize: 16, fontFamily: FONT, fill: "#4D4D4D" }}
          tickFormatter={(v: number) => v.toFixed(1)}
        />
        <Legend
          layout="horizontal"
          verticalAlign="middle"
          align="center"
          content={<LegendBox />}
          wrapperStyle={{ position: "absolute", left: 423, top: 7, width: 110, height: 61, margin: 0 }}
        />
        <Scatter name="Fitting" data={toRows(fit)} fill="#000000" shape={Dot} isAnimationActive={false} />
        <Scatter name="Validation" data={toRows(val)} fill="#00CD00" shape={Dot} isAnimationActive={false} />
        <Scatter
          name="Fit"
          data={toRows(line)}
          fill="#FF0000"
          legendType="none"
          line={{ stroke: "#FF0000", strokeWidth: 2.6 }}
          lineJointType="monotoneX"
          shape={NoDot}
          isAnimationActive={false}
        />
      </ScatterChart>
    </div>
  );
}

export default function App() {
  return (
    <div style={{ position: "absolute", left: 0, top: 0, width: 1093, height: 754, overflow: "hidden", background: "#fff" }}>
      <Panel left={0} top={0} title={titles[0]} fit={fitting1} val={validation1} line={fit1Line} xMajor={xMajor1} xMinor={xMinor1} />
      <Panel left={563} top={0} title={titles[1]} fit={fitting2} val={validation2} line={fit2Line} xMajor={xMajor2} xMinor={xMinor2} />
      <Panel left={0} top={380} title={titles[2]} fit={fitting3} val={validation3} line={fit3Line} xMajor={xMajor3} xMinor={xMinor3} />
      <Panel left={563} top={380} title={titles[3]} fit={fitting4} val={validation4} line={fit4Line} xMajor={xMajor4} xMinor={xMinor4} />
    </div>
  );
}
